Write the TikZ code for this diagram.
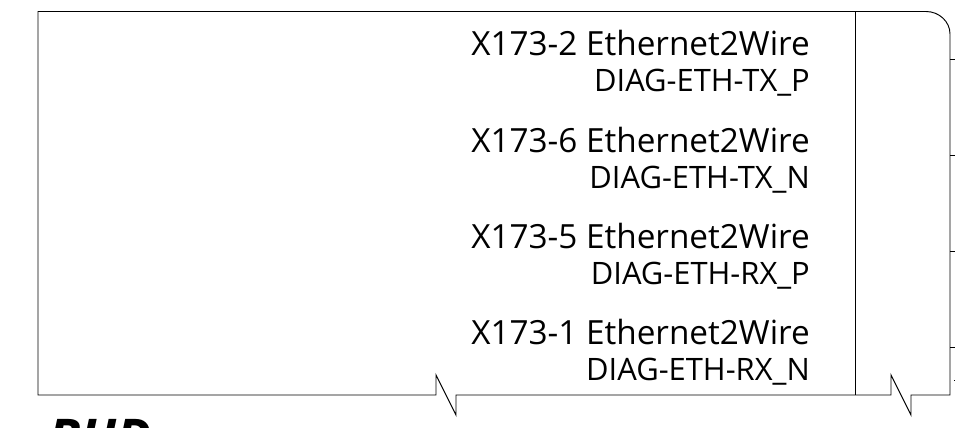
\documentclass[tikz,border=0pt]{standalone}
\usepackage{fontspec}
\setmainfont{Open Sans}
\begin{document}
\begin{tikzpicture}[x=1pt,y=-1pt,
  frameline/.style={draw=black,line width=0.95pt,line join=miter},
  bigtext/.style={anchor=base east,inner sep=0pt,font=\fontsize{33.3}{36}\selectfont,text=black},
  smalltext/.style={anchor=base east,inner sep=0pt,font=\fontsize{30.9}{34}\selectfont,text=black}]
\useasboundingbox (0,0) rectangle (955,428);
\clip (0,0) rectangle (955,428);
\fill[white] (0,0) rectangle (955,428);
\coordinate (tl) at (38,11.5);
\coordinate (bl) at (38,395);
\coordinate (tr) at (926,11.5);
\coordinate (rc) at (950,34);
\coordinate (br) at (950,395);
\draw[frameline] (tr) -- (tl) -- (bl) -- (436,395) -- (436,375) -- (456,415) -- (456,395)
  -- (891,395) -- (891,375) -- (911,415) -- (911,395) -- (br) -- (rc)
  .. controls (950,21.5) and (939,11.5) .. (tr);
\coordinate (dt) at (855,11.5);
\coordinate (db) at (855,395);
\draw[frameline] (dt) -- (db);
\foreach \yy in {59,155,251,347} {
  \coordinate (ta) at (950,\yy);
  \coordinate (tb) at (955,\yy);
  \draw[frameline] (ta) -- (tb);
}
\coordinate (ma) at (954,380);
\coordinate (mb) at (955,380);
\draw[frameline] (ma) -- (mb);
\node[bigtext] (a1) at (810,56) {X173-2 Ethernet2Wire};
\node[smalltext] (a2) at (810,92) {DIAG-ETH-TX\_P};
\node[bigtext] (b1) at (810,152) {X173-6 Ethernet2Wire};
\node[smalltext] (b2) at (810,188) {DIAG-ETH-TX\_N};
\node[bigtext] (c1) at (810,248) {X173-5 Ethernet2Wire};
\node[smalltext] (c2) at (810,284) {DIAG-ETH-RX\_P};
\node[bigtext] (d1) at (810,344) {X173-1 Ethernet2Wire};
\node[smalltext] (d2) at (810,380) {DIAG-ETH-RX\_N};
\node[anchor=base west,inner sep=0pt,font=\fontsize{52}{56}\selectfont\bfseries\itshape] (bud) at (48,456) {BUD};
\end{tikzpicture}
\end{document}
